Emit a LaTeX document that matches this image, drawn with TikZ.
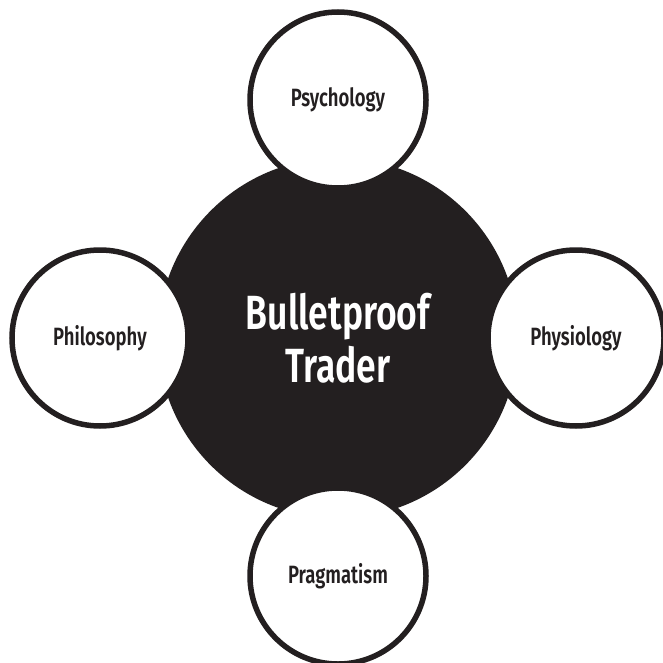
\documentclass[tikz,border=0pt]{standalone}
\usepackage{fontspec}
\setmainfont{Fira Sans}[FakeStretch=0.74,BoldFont={Fira Sans SemiBold}]
\usetikzlibrary{positioning}
\definecolor{ink}{HTML}{231F20}

\begin{document}
\begin{tikzpicture}[x=1pt,y=-1pt,node distance=238pt,semithick]
          \tikzstyle{core}=[circle,fill=ink,draw=none,minimum size=360pt,text=white,
                            align=center,font=\fontsize{48}{53}\selectfont\bfseries]
          \tikzstyle{pillar}=[circle,fill=white,draw=ink,line width=5.5pt,minimum size=176pt,
                              text=ink,font=\fontsize{25}{30}\selectfont\bfseries]
          \useasboundingbox (0,0) rectangle (662,663);

          \node[core]   (T)  at (338,338)  {Bulletproof\\Trader};
          \node[pillar] (PS) [above of=T]  {Psychology};
          \node[pillar] (PH) [left of=T]   {Philosophy};
          \node[pillar] (PY) [right of=T]  {Physiology};
          \node[pillar] (PR) [below of=T]  {Pragmatism};
        \end{tikzpicture}
\end{document}
